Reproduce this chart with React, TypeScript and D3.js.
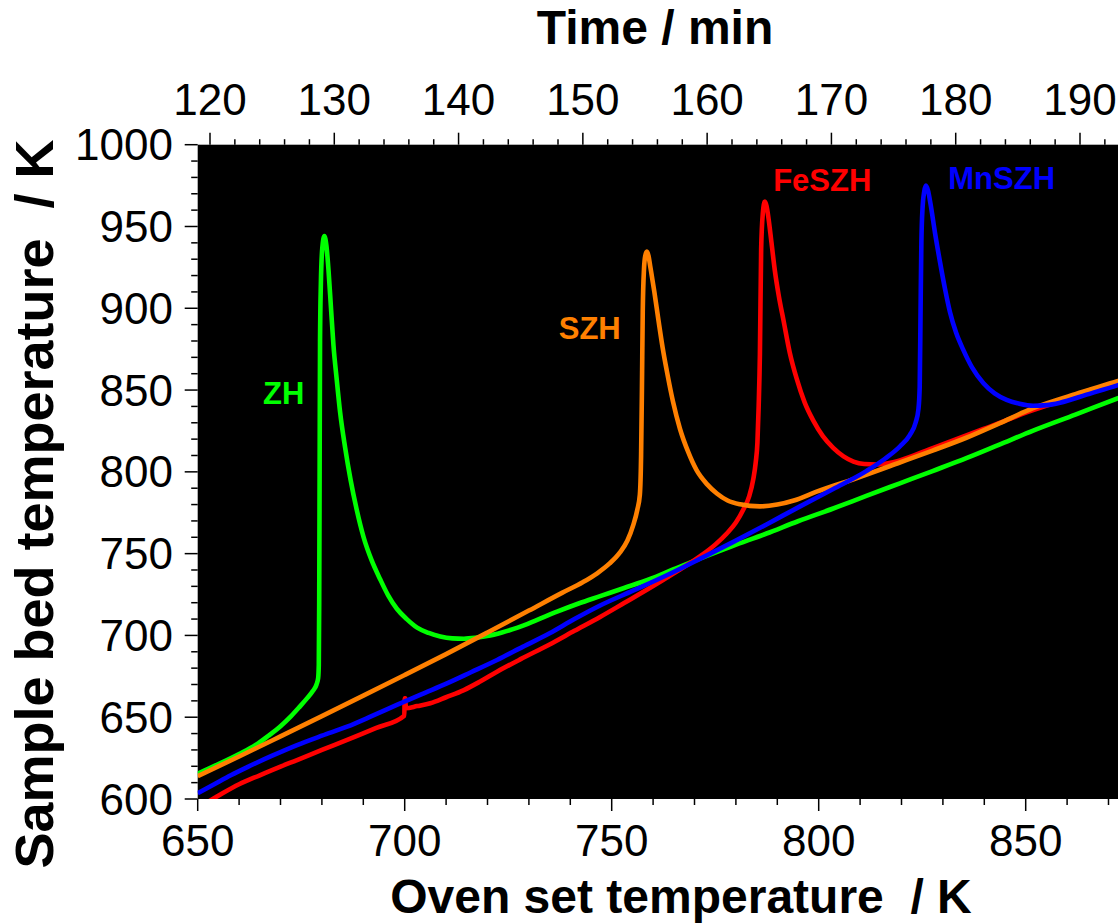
import React from "react";
import * as d3 from "d3";

// Oven set temperature (K) vs sample bed temperature (K)
const zhData: [number, number][] = [
  [650, 615.5], [655, 621.3], [660, 627.5], [664, 633], [667, 638.5], [670, 644.5],
  [672.5, 650.5], [674.5, 656], [676.5, 661.8], [677.8, 666], [678.7, 670],
  [679.1, 674], [679.25, 682], [679.35, 720], [679.45, 800], [679.55, 880],
  [679.75, 915], [680.1, 937], [680.6, 944.2], [681.1, 938], [681.6, 923.2],
  [682.2, 900], [682.8, 877.2], [683.6, 856], [684.4, 836.4], [685.6, 815],
  [686.9, 795.5], [688.4, 777], [690.1, 759.8], [692, 746], [694.1, 734.2],
  [696, 724.5], [698.1, 716.3], [700.5, 710], [703, 704.8], [705.8, 701.5],
  [708.6, 699.3], [711.5, 698.2], [714.3, 698], [717, 698.5], [719.9, 699.6],
  [723.5, 701.8], [727.1, 704.6], [732, 709.5], [736.8, 714.5], [742, 719.5],
  [747.2, 724], [753, 729], [759.3, 734.5], [765, 740.5], [771.3, 747],
  [779, 754.5], [787.4, 762.3], [795, 769.8], [803.5, 777.6], [811.5, 785.3],
  [819.6, 793], [827.5, 800.5], [835.8, 808.5], [843.5, 816.5], [851.8, 825.2],
  [862, 835], [872.3, 845], [876, 848.5],
];

const szhData: [number, number][] = [
  [650, 614], [660, 626], [670, 638.3], [680, 650.7], [690, 663.2], [700, 675.8],
  [710, 688.6], [720, 701.8], [730, 715.2], [738, 726], [743, 732.5], [746.5, 738],
  [749.5, 744], [752, 750.8], [753.8, 758], [755.2, 767.4], [756.2, 777], [756.8, 786],
  [757.1, 810], [757.3, 850], [757.5, 897.7], [757.8, 924], [758.1, 932], [758.5, 934.7],
  [758.9, 932], [759.3, 925.8], [760.3, 910], [761.3, 892.6], [762.3, 876], [763.3, 861.9],
  [764.8, 843], [766.5, 826.2], [768.5, 812], [770.5, 801], [773, 792.5], [775.4, 786.8],
  [778, 782.5], [781, 780.2], [785.8, 778.9], [790, 780], [794, 782.5], [799.5, 787.9],
  [808.4, 795.5], [819.6, 805.7], [827.5, 813], [835.8, 821], [843.5, 829.5],
  [851.8, 838.9], [862, 847.5], [872.3, 855.5], [876, 858.5],
];

const feszhData: [number, number][] = [
  [652, 597.5], [656, 603.5], [660, 609], [665, 614.5], [670, 619.8], [674, 623.8],
  [680, 630], [686.1, 636.1], [693, 643.3], [699.9, 650.9], [700.0, 661.5],
  [700.15, 661.5], [700.25, 655.5], [703, 656.8], [706.2, 658.5], [710, 662.2],
  [714.3, 666.6], [718, 671.5], [722.3, 677.8], [728, 685.5], [735, 694.5],
  [741, 702.8], [747.2, 711.3], [753, 719.8], [759.3, 729.1], [765, 738],
  [771.3, 748.3], [775, 755.5], [777.8, 762.3], [780, 769], [781.8, 777],
  [783.2, 785], [784.2, 795.5], [784.8, 806], [785.2, 818], [785.5, 840],
  [785.8, 872.1], [786.1, 936], [786.5, 958], [787, 965.3], [787.4, 962.5],
  [787.8, 956.4], [788.6, 940], [789.4, 923.2], [790.4, 907], [791.5, 892.6],
  [793, 873], [794.7, 856.8], [796.6, 842.5], [798.7, 831.3], [801, 821.8],
  [803.5, 814.7], [806, 809.5], [808.4, 806.3], [811, 804.8], [814, 804.5],
  [816.8, 805.3], [819.6, 807], [827.7, 814.7], [839.8, 826.2], [851.8, 837.7],
  [862, 846], [872.3, 854.2], [876, 857],
];

const mnszhData: [number, number][] = [
  [650, 603.5], [654, 609], [658, 614.5], [662, 619.5], [668, 626.5], [674, 633],
  [680, 638.7], [686.1, 644.2], [692, 650.6], [698.1, 657.5], [704, 664],
  [710.2, 670.7], [716, 677.5], [722.3, 685], [728.5, 693], [735, 701.3],
  [741, 710], [747.2, 718.3], [755, 727.2], [763.3, 736.8], [771.3, 746.8],
  [779.4, 757.2], [787.5, 768], [795.5, 778.9], [803.5, 789.5], [811.6, 800.6],
  [816, 808], [819.6, 815.5], [822, 822.5], [823.4, 830], [824.1, 838.5],
  [824.4, 852], [824.6, 897.7], [824.8, 940], [825.1, 962], [825.5, 971.5],
  [825.9, 975], [826.4, 972], [827, 964], [828.1, 946], [829.3, 928.3],
  [830.5, 912], [831.7, 897.7], [833.2, 885], [834.9, 874.7], [837, 864],
  [839.8, 854.2], [842.5, 848], [845.4, 844], [848.5, 841.6], [851.8, 840.4],
  [855, 840.8], [858.3, 842.3], [864.7, 847.2], [872.3, 853], [876, 856],
];

const seriesNames = ["ZH", "FeSZH", "SZH", "MnSZH"];
const seriesColors = ["#00ff00", "#ff0000", "#ff8000", "#0000ff"];
const seriesData = [zhData, feszhData, szhData, mnszhData];
// label anchor positions in data units [oven T, sample T]
const labelPos: [number, number][] = [[665.8, 841.5], [789, 971.7], [737.2, 881.2], [831.3, 972.9]];

const xTicksMajor = [650, 700, 750, 800, 850];
const yTicksMajor = [600, 650, 700, 750, 800, 850, 900, 950, 1000];
const timeTicksMajor = [120, 130, 140, 150, 160, 170, 180, 190];

const W = 1118;
const H = 924;
const FONT = "'Liberation Sans', Arial, Helvetica, sans-serif";

export default function App() {
  const left = 197.7;
  const top = 144.7;
  const bottom = 799;
  const x = d3.scaleLinear().domain([650, 875]).range([left, left + 225 * 4.14]);
  const y = d3.scaleLinear().domain([600, 1000]).range([bottom, top]);
  const t = d3.scaleLinear().domain([120, 190]).range([210, 1080]);

  const line = d3
    .line<[number, number]>()
    .x((d) => x(d[0]))
    .y((d) => y(d[1]))
    .curve(d3.curveMonotoneX);

  const xMinor = d3.range(650, 880, 10).filter((v) => x(v) <= W);
  const yMinor = d3.range(600, 1001, 10);
  const tMinor = d3.range(120, 200, 2).filter((v) => t(v) <= W);

  return (
    <svg
      width={W}
      height={H}
      style={{ position: "absolute", left: 0, top: 0, background: "#fff" }}
      fontFamily={FONT}
    >
      <defs>
        <clipPath id="plotclip">
          <rect x={left} y={top} width={W - left} height={bottom - top} />
        </clipPath>
      </defs>
      <rect x={left} y={top} width={W - left} height={bottom - top} fill="#000" />

      {/* bottom axis ticks */}
      {xMinor.map((v) => (
        <line
          key={"xm" + v}
          x1={x(v)}
          x2={x(v)}
          y1={bottom}
          y2={bottom + (v % 50 === 0 ? 12 : 6)}
          stroke="#000"
          strokeWidth={1.5}
        />
      ))}
      {xTicksMajor.map((v) => (
        <text key={"xl" + v} x={x(v)} y={856} fontSize={44} textAnchor="middle" fill="#000">
          {v}
        </text>
      ))}

      {/* left axis ticks */}
      {yMinor.map((v) => (
        <line
          key={"ym" + v}
          x1={left - (v % 50 === 0 ? 13 : 6.5)}
          x2={left}
          y1={y(v)}
          y2={y(v)}
          stroke="#000"
          strokeWidth={1.5}
        />
      ))}
      {yTicksMajor.map((v) => (
        <text key={"yl" + v} x={173} y={y(v) + 15.5} fontSize={44} textAnchor="end" fill="#000">
          {v}
        </text>
      ))}

      {/* top time axis */}
      {tMinor.map((v) => (
        <line
          key={"tm" + v}
          x1={t(v)}
          x2={t(v)}
          y1={top}
          y2={top - (v % 10 === 0 ? 12 : 5.5)}
          stroke="#000"
          strokeWidth={1.5}
        />
      ))}
      {timeTicksMajor.map((v) => (
        <text key={"tl" + v} x={t(v)} y={115} fontSize={44} textAnchor="middle" fill="#000">
          {v}
        </text>
      ))}

      {/* curves */}
      <g clipPath="url(#plotclip)">
        {seriesData.map((d, i) => (
          <path
            key={seriesNames[i]}
            d={line(d) || ""}
            fill="none"
            stroke={seriesColors[i]}
            strokeWidth={4.6}
            strokeLinejoin="round"
          />
        ))}
      </g>

      {/* curve labels */}
      {seriesNames.map((n, i) => (
        <text
          key={"lab" + n}
          x={x(labelPos[i][0])}
          y={y(labelPos[i][1])}
          fontSize={31}
          fontWeight="bold"
          fill={seriesColors[i]}
        >
          {n}
        </text>
      ))}

      {/* axis titles */}
      <text
        x={681}
        y={913}
        fontSize={48}
        fontWeight="bold"
        textAnchor="middle"
        fill="#000"
        style={{ whiteSpace: "pre" }}
      >
        {"Oven set temperature  / K"}
      </text>
      <text
        x={655}
        y={44}
        fontSize={48}
        fontWeight="bold"
        textAnchor="middle"
        fill="#000"
        style={{ whiteSpace: "pre" }}
      >
        {"Time / min"}
      </text>
      <text
        transform={`translate(53,504) rotate(-90)`}
        fontSize={54}
        fontWeight="bold"
        textAnchor="middle"
        fill="#000"
        style={{ whiteSpace: "pre" }}
      >
        {"Sample bed temperature  / K"}
      </text>
    </svg>
  );
}
